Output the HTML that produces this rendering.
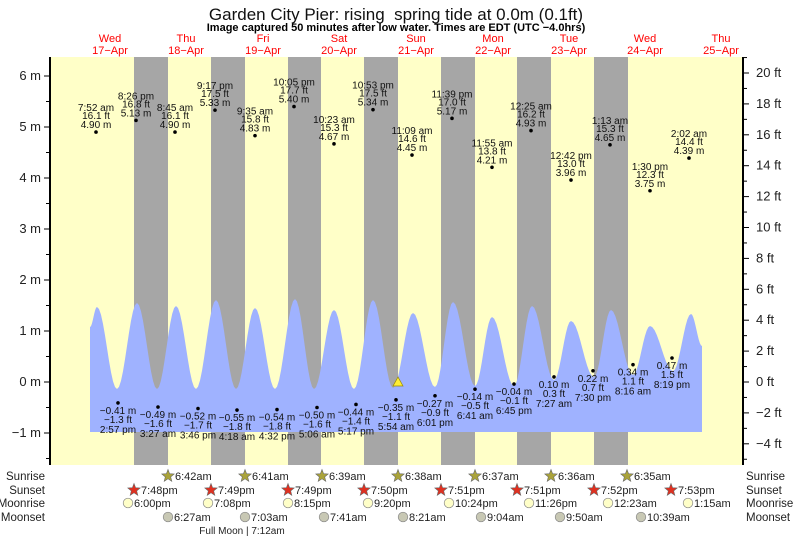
<!DOCTYPE html>
<html><head><meta charset="utf-8"><style>
body{margin:0;background:#fff}
svg{display:block;font-family:"Liberation Sans",Arial,sans-serif}
</style></head><body>
<svg id="s" width="793" height="539" xmlns="http://www.w3.org/2000/svg">
<rect x="0" y="0" width="793" height="539" fill="#fff"/>
<g id="g"></g>
</svg>
<script>
var G=document.getElementById('g'),h='';
function T(x,y,t,o){o=o||{};h+='<text x="'+x+'" y="'+y+'" font-size="'+(o.fs||10)+'" fill="'+(o.c||'#111')+'" text-anchor="'+(o.a||'middle')+'"'+(o.w?' font-weight="bold"':'')+'>'+t+'</text>';}
var L=50,R=743,TOP=57,BOT=465;
h+='<rect x="'+L+'" y="'+TOP+'" width="'+(R-L)+'" height="'+(BOT-TOP)+'" fill="#ffffc8"/>';
[[134,168],[211,245],[288,321],[364,398],[441,475],[517,551],[594,628]].forEach(function(b){h+='<rect x="'+b[0]+'" y="'+TOP+'" width="'+(b[1]-b[0])+'" height="'+(BOT-TOP)+'" fill="#a6a6a6"/>';});
var E=[[90,327],[97,307],[117,389],[137,303],[157,389],[176,306],[196,389],[216,300],[236,389],[255,308],[275,389],[295,299],[314,389],[334,310],[354,389],[373,300],[393,388],[413,313],[435,387],[453,302],[475,386],[492,317],[514,386],[532,306],[554,380],[571,321],[594,377],[611,310],[633,375],[650,326],[673,371],[691,314],[702,346]];
var d='M90,432 L90,327';
for(var i=0;i<E.length-1;i++){var a=E[i],b=E[i+1];for(var k=1;k<=10;k++){var t=k/10;var f=(1-Math.cos(Math.PI*t))/2;d+=' L'+(a[0]+(b[0]-a[0])*t).toFixed(1)+','+(a[1]+(b[1]-a[1])*f).toFixed(1);}}
d+=' L702,432 Z';
h+='<path d="'+d+'" fill="#9fb2ff"/>';
h+='<line x1="'+L+'" y1="'+TOP+'" x2="'+L+'" y2="'+BOT+'" stroke="#000" stroke-width="2"/>';
h+='<line x1="'+R+'" y1="'+TOP+'" x2="'+R+'" y2="'+BOT+'" stroke="#000" stroke-width="2"/>';
for(var m=-1.5;m<=6.5;m+=0.5){var y=382-m*51;if(y<TOP||y>BOT)continue;var major=(m%1===0);h+='<line x1="'+(L-(major?6:4))+'" y1="'+y+'" x2="'+L+'" y2="'+y+'" stroke="#000"/>';if(major)T(L-9,y+4,(m<0?'\u22121':m)+' m',{fs:13,a:'end',c:'#222'});}
for(var ft=-5;ft<=21;ft++){var y=382-ft*15.45;if(y<TOP||y>BOT)continue;var major=(ft%2===0);h+='<line x1="'+R+'" y1="'+y+'" x2="'+(R+(major?6:4))+'" y2="'+y+'" stroke="#000"/>';if(major)T(R+13,y+4,(ft<0?'\u2212'+(-ft):ft)+' ft',{fs:13,a:'start',c:'#222'});}
T(396,20,'Garden City Pier: rising&#160; spring tide at 0.0m (0.1ft)',{fs:17,c:'#111'});
T(396,31,'Image captured 50 minutes after low water. Times are EDT (UTC \u22124.0hrs)',{fs:11,w:1,c:'#000'});
var days=[['Wed','17\u2212Apr',110],['Thu','18\u2212Apr',186],['Fri','19\u2212Apr',263],['Sat','20\u2212Apr',339],['Sun','21\u2212Apr',416],['Mon','22\u2212Apr',493],['Tue','23\u2212Apr',569],['Wed','24\u2212Apr',645],['Thu','25\u2212Apr',721]];
days.forEach(function(v){T(v[2],42,v[0],{fs:11,c:'#f00'});T(v[2],54,v[1],{fs:11,c:'#f00'});});
var H=[[96,'7:52 am','16.1','4.90'],[136,'8:26 pm','16.8','5.13'],[175,'8:45 am','16.1','4.90'],[215,'9:17 pm','17.5','5.33'],[255,'9:35 am','15.8','4.83'],[294,'10:05 pm','17.7','5.40'],[334,'10:23 am','15.3','4.67'],[373,'10:53 pm','17.5','5.34'],[412,'11:09 am','14.6','4.45'],[452,'11:39 pm','17.0','5.17'],[492,'11:55 am','13.8','4.21'],[531,'12:25 am','16.2','4.93'],[571,'12:42 pm','13.0','3.96'],[610,'1:13 am','15.3','4.65'],[650,'1:30 pm','12.3','3.75'],[689,'2:02 am','14.4','4.39']];
H.forEach(function(v){var y=382-parseFloat(v[3])*51;h+='<circle cx="'+v[0]+'" cy="'+y+'" r="1.8" fill="#000"/>';T(v[0],y-21,v[1]);T(v[0],y-13,v[2]+' ft');T(v[0],y-4,v[3]+' m');});
var Lo=[[118,'-0.41','-1.3','2:57 pm'],[158,'-0.49','-1.6','3:27 am'],[198,'-0.52','-1.7','3:46 pm'],[237,'-0.55','-1.8','4:18 am'],[277,'-0.54','-1.8','4:32 pm'],[317,'-0.50','-1.6','5:06 am'],[356,'-0.44','-1.4','5:17 pm'],[396,'-0.35','-1.1','5:54 am'],[435,'-0.27','-0.9','6:01 pm'],[475,'-0.14','-0.5','6:41 am'],[514,'-0.04','-0.1','6:45 pm'],[554,'0.10','0.3','7:27 am'],[593,'0.22','0.7','7:30 pm'],[633,'0.34','1.1','8:16 am'],[672,'0.47','1.5','8:19 pm']];
Lo.forEach(function(v){var y=382-parseFloat(v[1])*51;h+='<circle cx="'+v[0]+'" cy="'+y+'" r="1.8" fill="#000"/>';T(v[0],y+11,v[1].replace('-','\u2212')+' m');T(v[0],y+20,v[2].replace('-','\u2212')+' ft');T(v[0],y+30,v[3]);});
h+='<polygon points="398,377 393,386 403,386" fill="#ffee33" stroke="#998800" stroke-width="0.7"/>';
var rows=[['Sunrise',480],['Sunset',494],['Moonrise',507],['Moonset',521]];
rows.forEach(function(r){T(45,r[1],r[0],{fs:11.5,a:'end',c:'#222'});T(746,r[1],r[0],{fs:11.5,a:'start',c:'#222'});});
function star(cx,cy,fill){var p='';for(var i=0;i<10;i++){var rr=i%2?2.8:6.5,a=-Math.PI/2+i*Math.PI/5;p+=(cx+rr*Math.cos(a)).toFixed(1)+','+(cy+rr*Math.sin(a)).toFixed(1)+' ';}h+='<polygon points="'+p+'" fill="'+fill+'" stroke="#666" stroke-width="0.6"/>';}
[[168,'6:42am'],[245,'6:41am'],[322,'6:39am'],[398,'6:38am'],[475,'6:37am'],[551,'6:36am'],[627,'6:35am']].forEach(function(v){star(v[0],476,'#aaa33a');T(v[0]+7,480,v[1],{fs:11,a:'start',c:'#222'});});
[[134,'7:48pm'],[211,'7:49pm'],[288,'7:49pm'],[364,'7:50pm'],[441,'7:51pm'],[517,'7:51pm'],[594,'7:52pm'],[671,'7:53pm']].forEach(function(v){star(v[0],490,'#e03020');T(v[0]+7,494,v[1],{fs:11,a:'start',c:'#222'});});
[[128,'6:00pm'],[208,'7:08pm'],[288,'8:15pm'],[368,'9:20pm'],[449,'10:24pm'],[529,'11:26pm'],[608,'12:23am'],[688,'1:15am']].forEach(function(v){h+='<circle cx="'+v[0]+'" cy="503" r="4.8" fill="#ffffc8" stroke="#888" stroke-width="0.7"/>';T(v[0]+6,507,v[1],{fs:11,a:'start',c:'#222'});});
[[168,'6:27am'],[245,'7:03am'],[324,'7:41am'],[403,'8:21am'],[481,'9:04am'],[560,'9:50am'],[641,'10:39am']].forEach(function(v){h+='<circle cx="'+v[0]+'" cy="517" r="4.8" fill="#c8c8b4" stroke="#888" stroke-width="0.7"/>';T(v[0]+6,521,v[1],{fs:11,a:'start',c:'#222'});});
T(242,534,'Full Moon | 7:12am',{fs:10,c:'#222'});
G.innerHTML=h;
</script>
</body></html>
